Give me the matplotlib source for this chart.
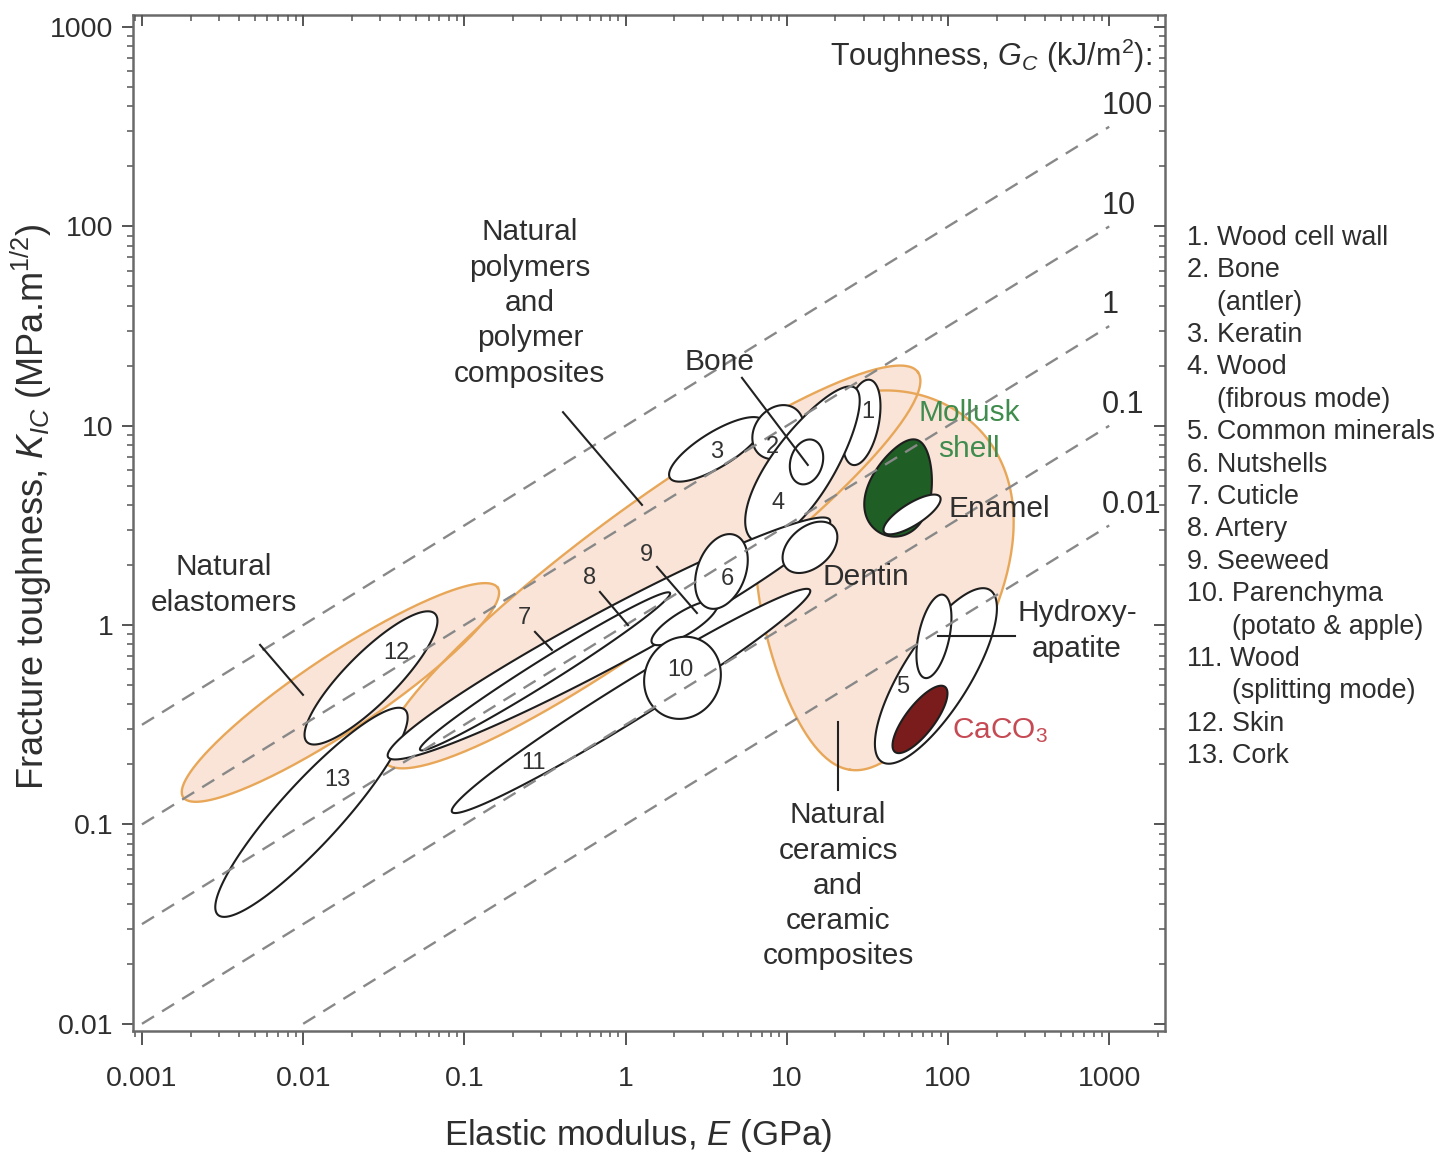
import numpy as np
import matplotlib.pyplot as plt
from matplotlib.ticker import FixedLocator, FuncFormatter, NullFormatter

plt.rcParams['font.family'] = ['Liberation Sans', 'DejaVu Sans']
plt.rcParams['mathtext.fontset'] = 'custom'
plt.rcParams['mathtext.rm'] = 'Liberation Sans'
plt.rcParams['mathtext.it'] = 'Liberation Sans:italic'
plt.rcParams['mathtext.bf'] = 'Liberation Sans:bold'

TEXT = '#2e2e2e'
ORANGE_FILL = '#f9e4d7'
ORANGE_EDGE = '#e8a758'

# toughness contours G_c = K^2 / E  (kJ/m^2)
toughness = [100, 10, 1, 0.1, 0.01]
x_ticks = [0.001, 0.01, 0.1, 1, 10, 100, 1000]
y_ticks = [0.01, 0.1, 1, 10, 100, 1000]

# material class envelopes: ends of the long axis (E in GPa, K in MPa.m^1/2)
envelope_E = [(0.0018, 0.161), (0.032, 65.0), (54.1, 24.7)]
envelope_K = [(0.137, 1.54), (0.206, 18.6), (14.8, 0.188)]
envelope_ratio = [0.20, 0.19, 0.645]
envelope_taper = [0.0, 0.0, 0.30]

# individual materials, in drawing order
mat_ids = ['13', '12', '3', '2', '1', '4', 'bone', '11', '7', '8', '9',
           '10', '6', 'dentin', 'mollusk', 'enamel', '5', 'hap', 'caco3']
mat_E = [(0.00296, 0.0428), (0.01056, 0.0657), (1.885, 7.12), (6.82, 11.4),
         (25.7, 32.8), (6.17, 26.5), (12.08, 14.54), (0.0838, 13.93),
         (0.0336, 18.5), (0.0531, 1.885), (1.459, 3.69), (1.755, 2.894),
         (3.24, 4.77), (9.89, 19.6), (40.7, 64.3), (40.1, 89.2),
         (38.9, 182.0), (71.9, 93.1), (46.9, 95.8)]
mat_K = [(0.0352, 0.376), (0.259, 1.14), (5.47, 10.6), (7.14, 12.1),
         (6.36, 17.0), (2.67, 15.5), (5.11, 8.49), (0.1156, 1.50),
         (0.218, 3.37), (0.237, 1.45), (0.814, 1.29), (0.351, 0.843),
         (1.22, 2.83), (1.94, 3.11), (2.83, 8.49), (2.93, 4.40),
         (0.206, 1.50), (0.543, 1.42), (0.231, 0.490)]
mat_ratio = [0.22, 0.28, 0.32, 0.80, 0.40, 0.34, 0.70, 0.09, 0.11, 0.08,
             0.30, 0.90, 0.62, 0.65, 0.62, 0.33, 0.33, 0.36, 0.35]
mat_taper = {'mollusk': 0.25, '4': 0.15}
mat_fill = {'mollusk': '#1f5e25', 'caco3': '#7a1c1c'}

legend_lines = ['1. Wood cell wall', '2. Bone', '    (antler)', '3. Keratin',
                '4. Wood', '    (fibrous mode)', '5. Common minerals',
                '6. Nutshells', '7. Cuticle', '8. Artery', '9. Seeweed',
                '10. Parenchyma', '      (potato & apple)', '11. Wood',
                '      (splitting mode)', '12. Skin', '13. Cork']


def ellipse_xy(ax, e_ends, k_ends, ratio, taper=0.0, n=240):
    """Oval round a long axis, built in screen space; taper narrows the second end."""
    d = ax.transData.transform(np.column_stack([e_ends, k_ends]))
    c = d.mean(axis=0)
    u = (d[1] - d[0]) / 2
    v = ratio * np.array([-u[1], u[0]])
    t = np.linspace(0, 2 * np.pi, n)
    s = np.cos(t)
    w = np.sin(t) * (1 - taper * s)
    pts = c + np.outer(s, u) + np.outer(w, v)
    return ax.transData.inverted().transform(pts)


def minor_ticks(majors):
    return [m * k for m in [majors[0] / 10] + list(majors) for k in range(2, 10)]


fig = plt.figure(figsize=(14.46, 11.53), dpi=100)
ax = fig.add_axes([0.092, 0.1058, 0.7137, 0.8812])
ax.set_xscale('log')
ax.set_yscale('log')
ax.set_xlim(8.8e-4, 2220)
ax.set_ylim(9.2e-3, 1150)

# class envelopes: fills first, then outlines so both stay visible
env = [ellipse_xy(ax, e, k, r, tp) for e, k, r, tp in
       zip(envelope_E, envelope_K, envelope_ratio, envelope_taper)]
for xy in env:
    ax.fill(xy[:, 0], xy[:, 1], color=ORANGE_FILL, lw=0, zorder=1)
for xy in env:
    ax.plot(xy[:, 0], xy[:, 1], color=ORANGE_EDGE, lw=1.7, zorder=2)

for i, (m, e, k, r) in enumerate(zip(mat_ids, mat_E, mat_K, mat_ratio)):
    xy = ellipse_xy(ax, e, k, r, mat_taper.get(m, 0.0))
    ax.fill(xy[:, 0], xy[:, 1], facecolor=mat_fill.get(m, 'white'),
            edgecolor='#1e1e1e', lw=1.5, zorder=3 + i)

# toughness lines
for g in toughness:
    e = np.logspace(np.log10(max(1e-3, 1e-4 / g)), 3, 100)
    ax.plot(e, np.sqrt(g * e), color='#888888', lw=1.7, ls=(0, (6, 4)), zorder=30)
    ax.text(900, np.sqrt(g * 1000) * 1.27, f'{g:g}', fontsize=22, color=TEXT,
            ha='left', va='center', zorder=50)
ax.text(1845, 714, 'Toughness, $G_C$ (kJ/m$^2$):', fontsize=22, color=TEXT,
        ha='right', va='center', zorder=50)

# class and material labels
lab = dict(fontsize=21.5, color=TEXT, ha='center', va='center',
           linespacing=1.33, zorder=50)
ax.text(0.00323, 1.59, 'Natural\nelastomers', **lab)
ax.text(0.255, 41.3, 'Natural\npolymers\nand\npolymer\ncomposites', **lab)
ax.text(20.8, 0.0492, 'Natural\nceramics\nand\nceramic\ncomposites', **lab)
ax.text(3.85, 20.9, 'Bone', **lab)
ax.text(135, 9.42, 'Mollusk\nshell', **{**lab, 'color': '#3f8c4e'})
ax.text(100, 3.83, 'Enamel', **{**lab, 'ha': 'left'})
ax.text(31, 1.745, 'Dentin', **lab)
ax.text(631, 0.935, 'Hydroxy-\napatite', **lab)
ax.text(106, 0.294, 'CaCO$_3$', **{**lab, 'ha': 'left', 'color': '#c64a54'})

pointers = [((0.0054, 0.00997), (0.796, 0.447)),
            ((0.409, 1.264), (11.7, 4.01)),
            ((5.27, 13.5), (17.4, 6.36)),
            ((20.8, 20.8), (0.327, 0.149)),
            ((86.7, 260), (0.883, 0.883)),
            ((0.274, 0.349), (0.925, 0.751)),
            ((0.693, 1.035), (1.467, 1.0)),
            ((1.566, 2.77), (1.96, 1.15))]
for px, py in pointers:
    ax.plot(px, py, color='#222222', lw=1.5, zorder=45)

num = dict(fontsize=17, color='#333333', ha='center', va='center', zorder=50)
number_pos = {'1': (31.9, 11.7), '2': (8.09, 7.83), '3': (3.69, 7.39),
              '4': (8.82, 4.10), '5': (52.6, 0.49), '6': (4.26, 1.706),
              '7': (0.234, 1.087), '8': (0.601, 1.725), '9': (1.339, 2.25),
              '10': (2.18, 0.596), '11': (0.2665, 0.204), '12': (0.0376, 0.726),
              '13': (0.0162, 0.1675)}
for s, (x, y) in number_pos.items():
    ax.text(x, y, s, **num)

# axes, ticks
fmt = FuncFormatter(lambda v, p: f'{v:g}')
for axis, majors in ((ax.xaxis, x_ticks), (ax.yaxis, y_ticks)):
    axis.set_major_locator(FixedLocator(majors))
    axis.set_minor_locator(FixedLocator(minor_ticks(majors)))
    axis.set_major_formatter(fmt)
    axis.set_minor_formatter(NullFormatter())
ax.tick_params(which='both', direction='out', colors='#555555', labelcolor=TEXT,
               labelsize=20.5, top=False, right=False)
ax.tick_params(which='major', length=8, width=1.4, pad=6)
ax.tick_params(which='minor', length=4, width=1.1)
ax.tick_params(axis='x', which='major', length=10, pad=15)
for s in ax.spines.values():
    s.set_color('#6a6a6a')
    s.set_linewidth(1.8)

# inward ticks on the top and right sides
top = ax.twiny()
top.set_xscale('log')
top.set_xlim(ax.get_xlim())
right = ax.twinx()
right.set_yscale('log')
right.set_ylim(ax.get_ylim())
for tw, axis, majors in ((top, top.xaxis, x_ticks), (right, right.yaxis, y_ticks)):
    axis.set_major_locator(FixedLocator(majors))
    axis.set_minor_locator(FixedLocator(minor_ticks(majors)))
    axis.set_major_formatter(NullFormatter())
    axis.set_minor_formatter(NullFormatter())
    tw.tick_params(which='both', direction='in', colors='#555555',
                   labeltop=False, labelright=False, labelbottom=False, labelleft=False)
    tw.tick_params(which='major', length=8, width=1.4)
    tw.tick_params(which='minor', length=4, width=1.1)
    for s in tw.spines.values():
        s.set_visible(False)

ax.set_xlabel('Elastic modulus, $E$ (GPa)', fontsize=25, color=TEXT)
ax.xaxis.set_label_coords(0.489, -0.085)
ax.set_ylabel('Fracture toughness, $K_{IC}$ (MPa.m$^{1/2}$)', fontsize=26, color=TEXT)
ax.yaxis.set_label_coords(-0.077, 0.516)

fig.text(0.8209, 0.805, '\n'.join(legend_lines), fontsize=19.4, color=TEXT,
         ha='left', va='top', linespacing=1.32)

fig.savefig('out.png', dpi=100)
